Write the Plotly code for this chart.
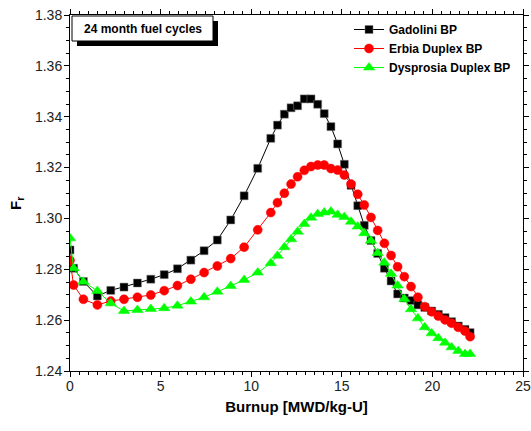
import plotly.graph_objects as go

burnup = [0.0, 0.2, 0.74, 1.51, 2.25, 2.98, 3.72, 4.46, 5.20, 5.93, 6.67, 7.40, 8.13,
          8.87, 9.61, 10.36, 11.08, 11.45, 11.83, 12.20, 12.56, 12.93, 13.30, 13.67,
          14.03, 14.40, 14.77, 15.14, 15.51, 15.88, 16.24, 16.61, 16.98, 17.35, 17.72,
          18.08, 18.45, 18.82, 19.20, 19.58, 19.96, 20.33, 20.70, 21.06, 21.43, 21.80, 22.08]

gadolini = [1.2876, 1.2804, 1.2752, 1.2695, 1.2717, 1.2730, 1.2746, 1.2761, 1.2779, 1.2802,
            1.2836, 1.2873, 1.2915, 1.2994, 1.3089, 1.3197, 1.3315, 1.3367, 1.3410, 1.3435,
            1.3443, 1.3470, 1.3470, 1.3449, 1.3412, 1.3361, 1.3293, 1.3213, 1.3130, 1.3050,
            1.2973, 1.2913, 1.2862, 1.2804, 1.2754, 1.2703, 1.2687, 1.2677, 1.2660, 1.2650,
            1.2636, 1.2623, 1.2610, 1.2594, 1.2577, 1.2564, 1.2551]

erbia = [1.2835, 1.2738, 1.2682, 1.2660, 1.2675, 1.2682, 1.2690, 1.2699, 1.2716, 1.2736,
         1.2761, 1.2787, 1.2813, 1.2842, 1.2887, 1.2955, 1.3023, 1.3062, 1.3099, 1.3135,
         1.3164, 1.3189, 1.3204, 1.3210, 1.3210, 1.3196, 1.3190, 1.3171, 1.3135, 1.3095,
         1.3053, 1.3004, 1.2953, 1.2902, 1.2854, 1.2810, 1.2771, 1.2732, 1.2690, 1.2653,
         1.2633, 1.2616, 1.2601, 1.2588, 1.2572, 1.2557, 1.2535]

dysprosia = [1.2922, 1.2804, 1.2751, 1.2715, 1.2666, 1.2636, 1.2640, 1.2644, 1.2647, 1.2657,
             1.2673, 1.2690, 1.2712, 1.2734, 1.2758, 1.2787, 1.2824, 1.2853, 1.2887, 1.2918,
             1.2948, 1.2978, 1.3003, 1.3017, 1.3023, 1.3027, 1.3014, 1.3006, 1.2987, 1.2968,
             1.2942, 1.2912, 1.2864, 1.2826, 1.2782, 1.2736, 1.2683, 1.2643, 1.2607, 1.2572,
             1.2548, 1.2529, 1.2511, 1.2493, 1.2479, 1.2467, 1.2467]

series_names = ["Gadolini BP", "Erbia Duplex BP", "Dysprosia Duplex BP"]
series_values = [gadolini, erbia, dysprosia]
series_colors = ["#000000", "#ff0000", "#00ff00"]
series_symbols = ["square", "circle", "triangle-up"]
series_sizes = [8, 9, 10]

box_label = "24 month fuel cycles"
x_title = "Burnup [MWD/kg-U]"
y_title = "F<sub>r</sub>"

FONT = "Arial, Liberation Sans, sans-serif"

fig = go.Figure()
for name, vals, col, sym, sz in zip(series_names, series_values, series_colors,
                                    series_symbols, series_sizes):
    fig.add_trace(go.Scatter(
        x=burnup, y=vals, name=name, mode="lines+markers",
        line=dict(color=col, width=1),
        marker=dict(symbol=sym, size=sz, color=col,
                    line=dict(width=0.5, color="#808080" if col == "#000000" else col)),
    ))

# plot area in page pixels: 70..523 x 15..371 (body margin removed below)
W, H = 531, 431
ML, MR, MT, MB = 70, 8, 15, 60
PL, PR, PT, PB = 70, 523, 15, 371


def px_x(p):
    return (p - PL) / (PR - PL)


def px_y(p):
    return (PB - p) / (PB - PT)


# shadow and box for the label
fig.add_shape(type="rect", xref="paper", yref="paper",
              x0=px_x(77), x1=px_x(218), y0=px_y(46), y1=px_y(21),
              fillcolor="black", line=dict(width=0), layer="above")
fig.add_shape(type="rect", xref="paper", yref="paper",
              x0=px_x(72), x1=px_x(213), y0=px_y(41), y1=px_y(16),
              fillcolor="white", line=dict(width=1, color="black"), layer="above")
fig.add_annotation(text="<b>" + box_label + "</b>", xref="paper", yref="paper",
                   x=px_x(142.5), y=px_y(29), xanchor="center", yanchor="middle",
                   showarrow=False,
                   font=dict(family=FONT, size=12, color="black"))

# y-axis title placed as rotated text
fig.add_annotation(text="<b>" + y_title + "</b>", xref="paper", yref="paper",
                   x=px_x(16), y=px_y(204), xanchor="center", yanchor="middle",
                   textangle=-90, showarrow=False,
                   font=dict(family=FONT, size=15, color="black"))

axis_common = dict(
    showline=True, linecolor="black", linewidth=1, mirror="ticks",
    ticks="outside", ticklen=5, tickwidth=1, tickcolor="black",
    showgrid=False, zeroline=False, ticklabeloverflow="allow",
    tickfont=dict(family=FONT, size=14, color="#222"),
)

fig.update_xaxes(range=[0, 25], dtick=5, tick0=0, ticklabelstandoff=-3,
                 minor=dict(dtick=0.5, ticks="outside", ticklen=3, tickcolor="black"),
                 title=dict(text="<b>" + x_title + "</b>",
                            font=dict(family=FONT, size=15, color="black"), standoff=8),
                 **axis_common)
fig.update_yaxes(range=[1.24, 1.38], dtick=0.02, tick0=1.24, tickformat=".2f",
                 ticklabelstandoff=-1,
                 minor=dict(dtick=0.005, ticks="outside", ticklen=3, tickcolor="black"),
                 **axis_common)

fig.update_layout(
    width=W, height=H,
    margin=dict(l=ML, r=MR, t=MT, b=MB, autoexpand=False),
    paper_bgcolor="white", plot_bgcolor="white",
    font=dict(family=FONT, color="black"),
    legend=dict(x=px_x(349), y=px_y(15), xanchor="left", yanchor="top",
                bgcolor="rgba(0,0,0,0)", borderwidth=0,
                font=dict(family=FONT, size=12, color="black", weight="bold"),
                tracegroupgap=0, itemwidth=30),
    showlegend=True,
)

fig.write_html(
    "out.html",
    config={"displayModeBar": False},
    post_script="document.body.style.margin='0';document.body.style.overflow='hidden';",
)
